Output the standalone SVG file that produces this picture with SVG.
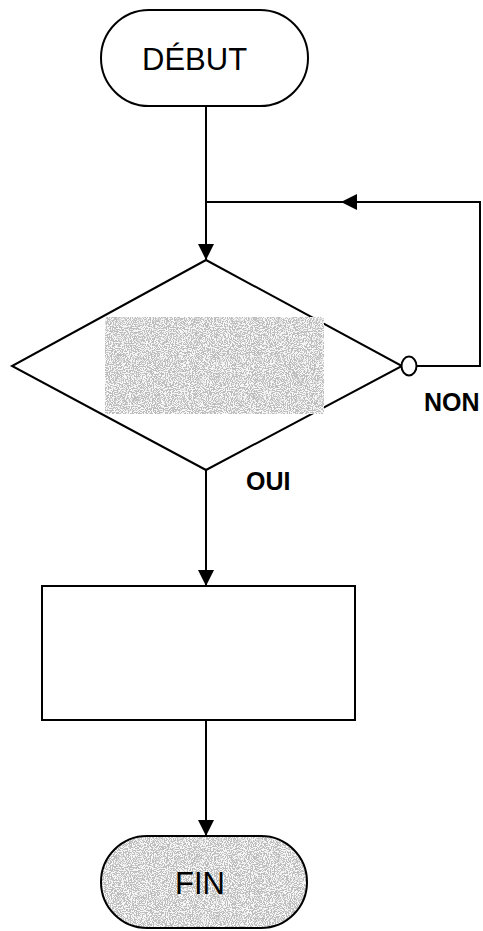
<svg xmlns="http://www.w3.org/2000/svg" width="483" height="931" viewBox="0 0 483 931">
  <style>
    .shape { fill: #ffffff; stroke: #000000; stroke-width: 2; }
    .grain { fill: #bdbdbd; stroke: none; filter: url(#speckle); }
    .outline { fill: none; stroke: #000000; stroke-width: 2; }
    .wire { fill: none; stroke: #000000; stroke-width: 2; }
    .big { font-family: "Liberation Sans", Arial, sans-serif; font-size: 31px; fill: #000000; }
    .tag { font-family: "Liberation Sans", Arial, sans-serif; font-size: 25px; font-weight: bold; fill: #000000; }
  </style>
  <defs>
    <filter id="speckle" x="0" y="0" width="100%" height="100%">
      <feTurbulence type="fractalNoise" baseFrequency="0.95" numOctaves="2" seed="7" result="noise"/>
      <feColorMatrix in="noise" type="matrix" values="0 0 0 0 0.93  0 0 0 0 0.93  0 0 0 0 0.93  0 0 0 10 -4.6" result="spots"/>
      <feComposite in="spots" in2="SourceGraphic" operator="in" result="clipped"/>
      <feMerge>
        <feMergeNode in="SourceGraphic"/>
        <feMergeNode in="clipped"/>
      </feMerge>
    </filter>
    <marker id="arrow" viewBox="0 0 16 16" refX="16" refY="8" markerWidth="16" markerHeight="16" markerUnits="userSpaceOnUse" orient="auto">
      <path d="M0,0 L16,8 L0,16 Z" fill="#000000"/>
    </marker>
  </defs>

  <g id="connectors">
    <!-- start to decision -->
    <line class="wire" x1="206" y1="106" x2="206" y2="260" marker-end="url(#arrow)"/>
    <!-- NON loop back to the top of the decision -->
    <polyline class="wire" points="417,366 480,366 480,202 341,202" marker-end="url(#arrow)"/>
    <line class="wire" x1="341" y1="202" x2="207" y2="202"/>
    <!-- OUI to process -->
    <line class="wire" x1="206" y1="470" x2="206" y2="586" marker-end="url(#arrow)"/>
    <!-- process to end -->
    <line class="wire" x1="206" y1="720" x2="206" y2="836" marker-end="url(#arrow)"/>
  </g>

  <g id="start">
    <rect class="shape" x="101" y="10" width="207" height="96" rx="48" ry="48"/>
    <text class="big" x="142" y="70">DÉBUT</text>
  </g>

  <g id="decision">
    <polygon class="shape" points="206,260 402,366 206,470 12,366"/>
    <rect class="grain" x="105" y="317" width="219" height="97"/>
    <ellipse class="shape" cx="409" cy="366" rx="7.5" ry="9.5"/>
    <text class="tag" x="424" y="411">NON</text>
    <text class="tag" x="246" y="490">OUI</text>
  </g>

  <g id="process">
    <rect class="shape" x="42" y="586" width="313" height="134"/>
  </g>

  <g id="end">
    <rect class="grain" x="101" y="836" width="206" height="92" rx="46" ry="46"/>
    <rect class="outline" x="101" y="836" width="206" height="92" rx="46" ry="46"/>
    <text class="big" x="175" y="894">FIN</text>
  </g>
</svg>
